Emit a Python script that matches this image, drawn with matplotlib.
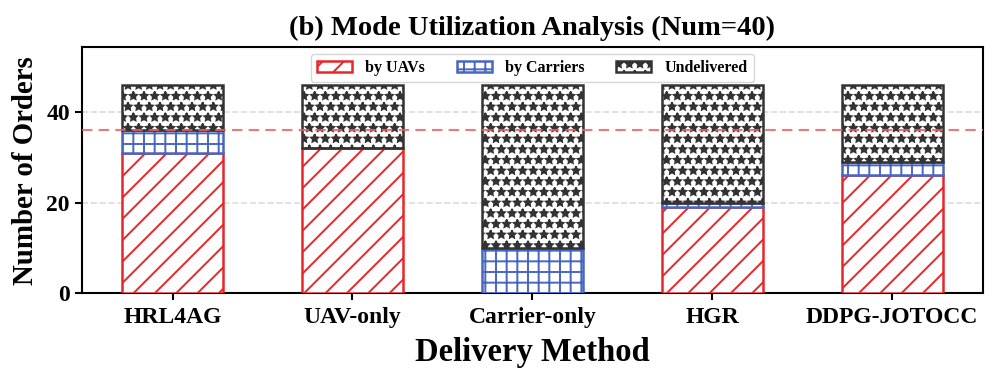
import matplotlib
matplotlib.use("Agg")
import matplotlib.pyplot as plt
import numpy as np

methods = ["HRL4AG", "UAV-only", "Carrier-only", "HGR", "DDPG-JOTOCC"]
by_uavs = [31, 32, 0, 19, 26]
by_carriers = [5, 0, 10, 1, 3]
undelivered = [10, 14, 36, 26, 17]
threshold = 36

DPI = 128
s = 100.0 / DPI  # keep pixel sizes as if at 100 dpi

plt.rcParams['font.family'] = ['Liberation Serif', 'DejaVu Serif']
plt.rcParams['font.weight'] = 'bold'
plt.rcParams['hatch.linewidth'] = 1.4 * s

fig, ax = plt.subplots(figsize=(996 / DPI, 377 / DPI), dpi=DPI)
fig.subplots_adjust(left=0.082, right=0.987, top=0.875, bottom=0.222)

x = np.arange(len(methods))
w = 0.56
u = np.array(by_uavs); c = np.array(by_carriers); d = np.array(undelivered)

ax.bar(x, u, w, color='white', edgecolor='#e8262a', hatch='//', linewidth=1.8 * s, label='by UAVs', zorder=3)
ax.bar(x, c, w, bottom=u, color='white', edgecolor='#4666c0', hatch='++', linewidth=1.8 * s, label='by Carriers', zorder=3)
ax.bar(x, d, w, bottom=u + c, color='white', edgecolor='#333333', hatch='**', linewidth=1.8 * s, label='Undelivered', zorder=3)

ax.axhline(threshold, color='#f06060', linestyle='--', linewidth=1.5 * s, alpha=0.85, zorder=4,
           dashes=(5, 3))
ax.yaxis.grid(True, linestyle='--', color='#dddddd', linewidth=1.2 * s, zorder=0)

ax.set_ylim(0, 54.3)
ax.set_xlim(-0.505, 4.505)
ax.set_yticks([0, 20, 40])
ax.set_xticks(x)
ax.set_xticklabels(methods, fontsize=17 * s, fontweight='bold')
for t in ax.get_yticklabels():
    t.set_fontsize(17 * s); t.set_fontweight('bold')
ax.tick_params(axis='both', width=1.5 * s, length=5 * s, pad=3.5 * s)
ax.tick_params(axis='x', pad=5 * s)
for sp in ax.spines.values():
    sp.set_linewidth(1.5 * s)

ax.set_xlabel('Delivery Method', fontsize=23.5 * s, fontweight='bold', labelpad=6 * s)
ax.set_ylabel('Number of Orders', fontsize=20.8 * s, fontweight='bold', labelpad=5 * s)
ax.set_title('(b) Mode Utilization Analysis (Num=40)', fontsize=20.5 * s, fontweight='bold', pad=9 * s)

leg = ax.legend(loc='upper center', ncol=3, prop={'weight': 'bold', 'size': 11.5 * s},
                frameon=True, borderaxespad=0.4, columnspacing=2.0, handlelength=2.2)
leg.get_frame().set_linewidth(1.0 * s)

fig.savefig('out.png', dpi=DPI)
